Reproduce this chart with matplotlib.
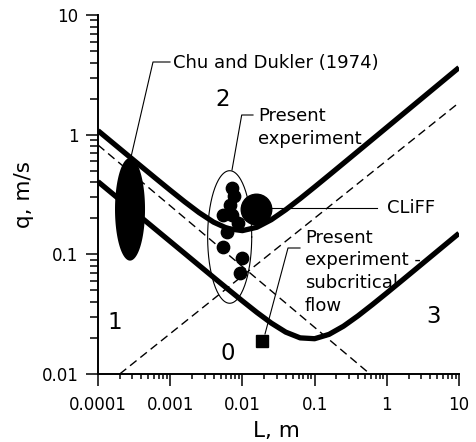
import numpy as np
import matplotlib
matplotlib.use("Agg")
import matplotlib.pyplot as plt
from matplotlib.ticker import LogLocator, FixedLocator, FixedFormatter, NullFormatter
from matplotlib.lines import Line2D

plt.rcParams['font.family'] = ['DejaVu Sans']

# ---- data -------------------------------------------------------------
# regime boundaries (thick curves), sampled every 0.2 decade in L
L_curve = [1.000e-4, 1.585e-4, 2.512e-4, 3.981e-4, 6.310e-4,
           1.000e-3, 1.585e-3, 2.512e-3, 3.981e-3, 6.310e-3,
           1.000e-2, 1.585e-2, 2.512e-2, 3.981e-2, 6.310e-2,
           0.1000, 0.1585, 0.2512, 0.3981, 0.6310,
           1.000, 1.585, 2.512, 3.981, 6.310, 10.00]
q_upper = [1.080, 0.8580, 0.6817, 0.5418, 0.4309,
           0.3435, 0.2751, 0.2231, 0.1859, 0.1638,
           0.1578, 0.1683, 0.1946, 0.2358, 0.2921,
           0.3653, 0.4586, 0.5768, 0.7258, 0.9136,
           1.150, 1.448, 1.823, 2.295, 2.889, 3.637]
q_lower = [0.4050, 0.3217, 0.2555, 0.2030, 0.1612,
           0.1281, 0.1018, 0.08084, 0.06426, 0.05113,
           0.04078, 0.03272, 0.02664, 0.02239, 0.02004,
           0.01972, 0.02144, 0.02509, 0.03059, 0.03800,
           0.04757, 0.05976, 0.07517, 0.09460, 0.1191, 0.1499]

# dashed asymptotes
dash_down_L = [1e-4, 0.585]
dash_down_q = [0.82, 0.01]
dash_up_L = [2e-4, 10.0]
dash_up_q = [0.01, 1.85]

# present experiment (supercritical)
exp_L = [0.00724, 0.00753, 0.00673, 0.00543, 0.00720,
         0.00877, 0.00607, 0.00543, 0.00977, 0.00927]
exp_q = [0.356, 0.308, 0.259, 0.214, 0.214,
         0.182, 0.155, 0.116, 0.0927, 0.0695]

# CLiFF
cliff_L = [0.0153]
cliff_q = [0.238]

# present experiment, subcritical flow
sub_L = [0.0189]
sub_q = [0.0190]

# ranges of data sets (L min/max, q min/max)
chu_L = (0.000172, 0.000448)
chu_q = (0.0886, 0.639)
expzone_L = (0.0033, 0.01346)
expzone_q = (0.039, 0.50)

x_ticks = [1e-4, 1e-3, 1e-2, 1e-1, 1, 10]
x_ticklabels = ['0.0001', '0.001', '0.01', '0.1', '1', '10']
y_ticks = [0.01, 0.1, 1, 10]
y_ticklabels = ['0.01', '0.1', '1', '10']

# ---- figure -------------------------------------------------------------
W, H = 477, 442
fig = plt.figure(figsize=(W / 100, H / 100), dpi=100)
ax = fig.add_axes([98 / W, 1 - 374 / H, 361 / W, 359 / H])
ax.set_xscale('log')
ax.set_yscale('log')
ax.set_xlim(1e-4, 10)
ax.set_ylim(0.01, 10)

for s in ('top', 'right'):
    ax.spines[s].set_visible(False)
for s in ('left', 'bottom'):
    ax.spines[s].set_linewidth(1.4)

ax.xaxis.set_major_locator(FixedLocator(x_ticks))
ax.xaxis.set_major_formatter(FixedFormatter(x_ticklabels))
ax.yaxis.set_major_locator(FixedLocator(y_ticks))
ax.yaxis.set_major_formatter(FixedFormatter(y_ticklabels))
ax.xaxis.set_minor_locator(LogLocator(base=10, subs=np.arange(2, 10)))
ax.yaxis.set_minor_locator(LogLocator(base=10, subs=np.arange(2, 10)))
ax.xaxis.set_minor_formatter(NullFormatter())
ax.yaxis.set_minor_formatter(NullFormatter())
ax.tick_params(which='both', direction='out', width=1.1, colors='k')
ax.tick_params(axis='x', which='major', length=8.4, pad=7.5, labelsize=12)
ax.tick_params(axis='x', which='minor', length=3.8)
ax.tick_params(axis='y', which='major', length=8.6, pad=5.5, labelsize=12)
ax.tick_params(axis='y', which='minor', length=5.6)

# dashed asymptotes
ax.plot(dash_down_L, dash_down_q, color='k', lw=1.0, dashes=(6, 3.5))
ax.plot(dash_up_L, dash_up_q, color='k', lw=1.0, dashes=(6, 3.5))

# thick boundaries
ax.plot(L_curve, q_upper, color='k', lw=3.8, solid_capstyle='butt', solid_joinstyle='round')
ax.plot(L_curve, q_lower, color='k', lw=3.8, solid_capstyle='butt', solid_joinstyle='round')


def log_ellipse(Lr, qr, n=200):
    t = np.linspace(0, 2 * np.pi, n)
    lx = np.log10(Lr)
    ly = np.log10(qr)
    cx, rx = (lx[0] + lx[1]) / 2, (lx[1] - lx[0]) / 2
    cy, ry = (ly[0] + ly[1]) / 2, (ly[1] - ly[0]) / 2
    return 10 ** (cx + rx * np.cos(t)), 10 ** (cy + ry * np.sin(t))


ex, ey = log_ellipse(chu_L, chu_q)
ax.fill(ex, ey, color='k', lw=0)
ex, ey = log_ellipse(expzone_L, expzone_q)
ax.plot(ex, ey, color='k', lw=0.8)

ax.plot(exp_L, exp_q, 'o', color='k', ms=8.9, mec='k')
ax.plot(cliff_L, cliff_q, 'o', color='k', ms=22, mec='k')
ax.plot(sub_L, sub_q, 's', color='k', ms=9.2, mec='k')

# axis titles
ax.set_xlabel('L, m', fontsize=15.5)
ax.xaxis.set_label_coords((276 - 98) / 361, (374 - 421) / 359)
ax.set_ylabel('q, m/s', fontsize=15.5)
ax.yaxis.set_label_coords((34.3 - 98) / 361, 0.5)


def fx(x):
    return x / W


def fy(y):
    return 1 - y / H


def leader(pts):
    fig.add_artist(Line2D([fx(p[0]) for p in pts], [fy(p[1]) for p in pts],
                          color='k', lw=0.8, transform=fig.transFigure))


# annotations (multi-line texts are anchored at the baseline of their last line)
fig.text(fx(173), fy(68), 'Chu and Dukler (1974)', fontsize=13, va='baseline', ha='left')
leader([(170, 62), (153, 62), (131, 157)])

fig.text(fx(258), fy(143.5), 'Present\nexperiment', fontsize=13, va='baseline', ha='left',
         linespacing=1.31)
leader([(253, 115), (241.7, 115), (232, 170)])

fig.text(fx(387), fy(213.3), 'CLiFF', fontsize=13, va='baseline', ha='left')
leader([(271, 208), (377, 208)])

fig.text(fx(305), fy(310.7), 'Present\nexperiment -\nsubcritical\nflow', fontsize=13,
         va='baseline', ha='left', linespacing=1.33)
leader([(300, 248), (288, 248), (265, 334)])

# regime numbers
for lab, x, y in [('1', 115, 329.3), ('2', 222.5, 106), ('0', 227.5, 360), ('3', 433.7, 323.3)]:
    fig.text(fx(x), fy(y), lab, fontsize=16.5, va='baseline', ha='center')

fig.savefig('out.png', dpi=100)
